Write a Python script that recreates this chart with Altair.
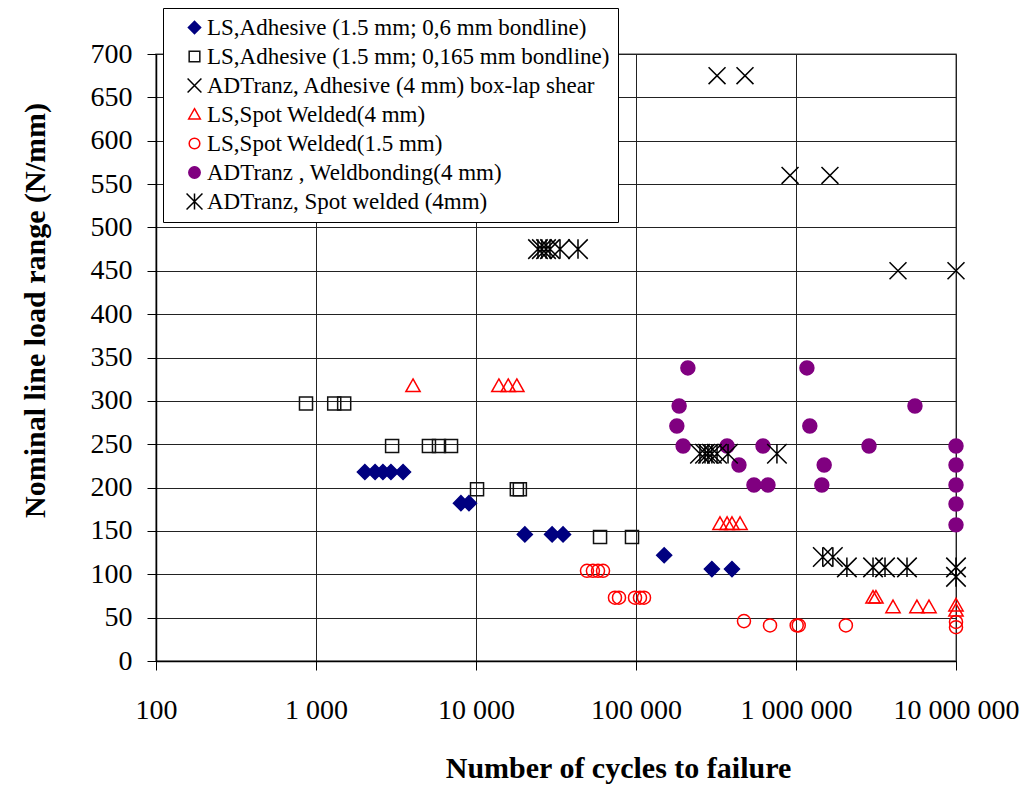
import altair as alt
import pandas as pd

# ---------------- data ----------------
series_names = [
    "LS,Adhesive (1.5 mm; 0,6 mm bondline)",
    "LS,Adhesive (1.5 mm; 0,165 mm bondline)",
    "ADTranz, Adhesive (4 mm) box-lap shear",
    "LS,Spot Welded(4 mm)",
    "LS,Spot Welded(1.5 mm)",
    "ADTranz , Weldbonding(4 mm)",
    "ADTranz, Spot welded (4mm)",
]

s1_cycles = [2020, 2340, 2620, 2940, 3500, 8050, 9040, 20200, 29900, 35000, 150000, 298000, 398000]
s1_load = [218, 218, 218, 218, 218, 182, 182, 146, 146, 146, 122, 106, 106]

s2_cycles = [866, 1300, 1500, 2990, 5080, 5870, 6980, 10150, 18000, 18800, 59600, 94400]
s2_load = [297, 297, 297, 248, 248, 248, 248, 198, 198, 198, 143, 143]

s3_cycles = [321000, 480000, 918000, 1630000, 4340000, 10000000]
s3_load = [675, 675, 560, 560, 450, 450]

s4_cycles = [4040, 13900, 15900, 18000, 335000, 371000, 398000, 447000,
             3030000, 3160000, 4040000, 5700000, 6780000, 10000000, 10000000]
s4_load = [317, 317, 317, 317, 158, 158, 158, 158, 73, 73, 62, 62, 62, 64, 58]

s5_cycles = [49400, 53800, 57900, 62200, 73900, 78300, 98600, 105900, 112200,
             473000, 688000, 1010000, 1040000, 2050000, 10000000, 10000000]
s5_load = [104, 104, 104, 104, 73, 73, 73, 73, 73, 46, 41, 41, 41, 41, 45, 39]

s6_cycles = [211000, 1170000, 186000, 5540000, 180000, 1220000, 197000, 371000, 622000,
             2860000, 10000000, 440000, 1500000, 10000000, 546000, 668000, 1450000,
             10000000, 10000000, 10000000]
s6_load = [338, 338, 294, 294, 271, 271, 248, 248, 248, 248, 248, 226, 226, 226,
           203, 203, 203, 203, 181, 157]

s7_cycles = [24400, 25800, 27400, 29000, 33500, 43400,
             251000, 270000, 282000, 298000, 321000, 376000, 760000,
             1470000, 1700000, 2080000, 3030000, 3600000, 4940000, 10000000, 10000000]
s7_load = [475, 475, 475, 475, 475, 475, 239, 239, 239, 239, 239, 239, 239,
           120, 120, 108, 108, 108, 108, 108, 97]

x_ticks = [100, 1000, 10000, 100000, 1000000, 10000000]
x_tick_labels = ["100", "1 000", "10 000", "100 000", "1 000 000", "10 000 000"]
y_ticks = list(range(0, 701, 50))

# ---------------- styling ----------------
# symbol paths (unit = half of sqrt(size))
DIAMOND = "diamond"
SQUARE = "M-0.87,-0.87L0.87,-0.87L0.87,0.87L-0.87,0.87Z"
X_PATH = "M-1.13,-1.13L1.13,1.13M-1.13,1.13L1.13,-1.13"
TRI = "M0,-0.95L0.95,0.72L-0.95,0.72Z"
CIRC_OPEN = "M0.87,0A0.87,0.87,0,1,1,-0.87,0A0.87,0.87,0,1,1,0.87,0Z"
CIRC_FULL = "M0.93,0A0.93,0.93,0,1,1,-0.93,0A0.93,0.93,0,1,1,0.93,0Z"
AST_PATH = "M-1.3,-1.3L1.3,1.3M-1.3,1.3L1.3,-1.3M0,-1.3L0,1.3"
shapes = [DIAMOND, SQUARE, X_PATH, TRI, CIRC_OPEN, CIRC_FULL, AST_PATH]
strokes = ["#000080", "#111111", "#000000", "#ff0000", "#ff0000", "#800080", "#000000"]
fills = ["#000080", "transparent", "transparent", "transparent", "transparent", "#800080", "transparent"]

all_cycles = [s1_cycles, s2_cycles, s3_cycles, s4_cycles, s5_cycles, s6_cycles, s7_cycles]
all_loads = [s1_load, s2_load, s3_load, s4_load, s5_load, s6_load, s7_load]

rows = []
for name, xs, ys in zip(series_names, all_cycles, all_loads):
    for x, y in zip(xs, ys):
        rows.append({"series": name, "cycles": x, "load": y})
df = pd.DataFrame(rows)

label_expr = ""
for v, lab in zip(x_ticks, x_tick_labels):
    label_expr += f"round(datum.value) == {v} ? '{lab}' : "
label_expr += "''"

FONT = "Liberation Serif"

legend = alt.Legend(
    title=None,
    orient="none",
    legendX=7,
    legendY=-46,
    padding=8,
    strokeColor="#000000",
    fillColor="#ffffff",
    labelFont=FONT,
    labelFontSize=23,
    labelColor="#000000",
    labelLimit=600,
    symbolSize=150,
    symbolStrokeWidth=1.5,
    symbolOffset=12,
    labelOffset=1,
    rowPadding=5,
)

chart = (
    alt.Chart(df)
    .mark_point(filled=False, opacity=1, strokeWidth=1.5, size=225)
    .encode(
        x=alt.X(
            "cycles:Q",
            scale=alt.Scale(type="log", domain=[100, 10000000], nice=False),
            axis=alt.Axis(
                values=x_ticks,
                labelExpr=label_expr,
                title="Number of cycles to failure",
                titleFont=FONT,
                titleFontSize=30,
                titleFontWeight="bold",
                titleColor="#000000",
                titleX=462,
                titleY=107,
                titleBaseline="middle",
                labelFont=FONT,
                labelFontSize=28,
                labelColor="#000000",
                labelPadding=26,
                labelFlush=False,
                tickSize=9,
                tickColor="#000000",
                domainColor="#000000",
                domainWidth=1.5,
                grid=True,
                gridColor="#222222",
                gridWidth=1,
            ),
        ),
        y=alt.Y(
            "load:Q",
            scale=alt.Scale(domain=[0, 700], nice=False),
            axis=alt.Axis(
                values=y_ticks,
                title="Nominal line load range  (N/mm)",
                titleFont=FONT,
                titleFontSize=30,
                titleFontWeight="bold",
                titleColor="#000000",
                titleX=-121,
                titleY=256,
                titleBaseline="middle",
                labelFont=FONT,
                labelFontSize=28,
                labelColor="#000000",
                labelPadding=15,
                tickSize=9,
                tickColor="#000000",
                domainColor="#000000",
                domainWidth=1.5,
                grid=True,
                gridColor="#222222",
                gridWidth=1,
            ),
        ),
        color=alt.Color("series:N", scale=alt.Scale(domain=series_names, range=strokes), legend=legend),
        fill=alt.Fill("series:N", scale=alt.Scale(domain=series_names, range=fills), legend=legend),
        shape=alt.Shape("series:N", scale=alt.Scale(domain=series_names, range=shapes), legend=legend),
    )
    .properties(
        width=800,
        height=607,
        padding={"left": 156, "top": 54, "right": 70, "bottom": 124},
        autosize=alt.AutoSizeParams(type="none"),
        background="#ffffff",
    )
    .configure_view(stroke="#808080", strokeWidth=1.5)
)

chart.save("out.html", embed_options={"renderer": "svg", "actions": False})
